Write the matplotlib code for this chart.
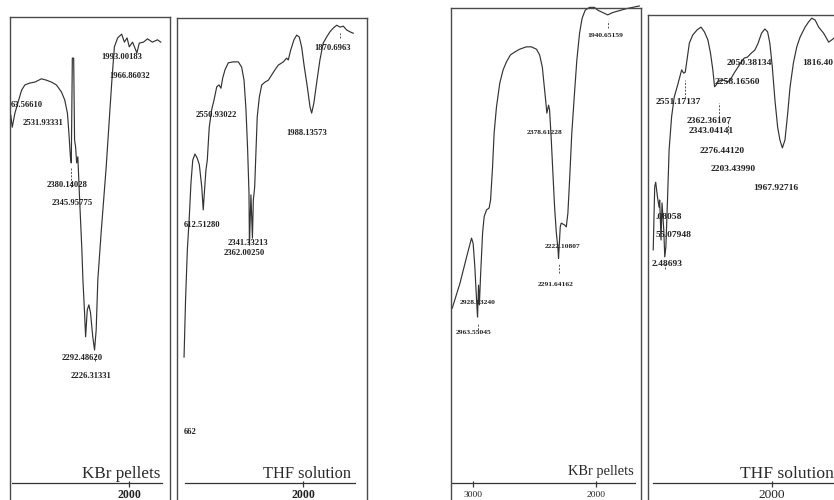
import matplotlib.pyplot as plt

W, H = 834, 500

# ---- spectra: wavenumber (cm-1) and transmittance (%) ----
kbr1_wn = [2795, 2785, 2767, 2747, 2722, 2700, 2667, 2633, 2589, 2555, 2522, 2489,
           2455, 2433, 2415, 2405, 2395, 2389, 2382, 2373, 2367, 2360, 2353, 2345,
           2333, 2318, 2311, 2300, 2293, 2282, 2271, 2260, 2245, 2233, 2222, 2211,
           2189, 2155, 2133, 2118, 2100, 2078, 2051, 2033, 2015, 2000, 1978, 1949,
           1933, 1905, 1878, 1845, 1811, 1789]
kbr1_t = [78.3, 75.7, 78.7, 80.9, 83.6, 84.7, 85.1, 85.3, 86.0, 85.7, 85.3, 84.7,
          83.2, 81.5, 78.7, 74.5, 69.4, 68.1, 90.4, 90.4, 73.0, 71.5, 68.1, 69.4,
          60.2, 49.6, 43.2, 36.2, 31.1, 36.8, 37.9, 36.2, 31.1, 28.3, 32.6, 43.2,
          53.2, 67.2, 77.9, 85.1, 92.8, 94.7, 95.5, 93.8, 94.7, 92.8, 93.8, 91.5,
          93.6, 93.8, 94.5, 93.8, 94.3, 93.8]

thf1_wn = [2793, 2783, 2771, 2758, 2747, 2735, 2720, 2705, 2691, 2675, 2665, 2655,
           2647, 2638, 2625, 2609, 2593, 2575, 2560, 2547, 2535, 2520, 2498, 2465,
           2431, 2409, 2393, 2380, 2369, 2360, 2357, 2347, 2337, 2331, 2322, 2313,
           2305, 2291, 2275, 2253, 2231, 2209, 2187, 2165, 2131, 2109, 2098, 2082,
           2060, 2042, 2025, 2009, 1991, 1971, 1953, 1942, 1927, 1909, 1887, 1865,
           1842, 1820, 1798, 1775, 1753, 1731, 1709, 1687, 1665]
thf1_t = [26.8, 38.9, 49.6, 56.6, 63.8, 68.7, 70.0, 69.1, 67.7, 63.0, 58.1, 63.0,
          66.6, 68.7, 75.7, 79.4, 81.5, 84.3, 84.7, 84.0, 86.2, 87.9, 89.4, 89.6,
          89.6, 88.5, 85.7, 79.4, 70.9, 61.7, 50.6, 61.3, 52.1, 60.2, 63.0, 70.9,
          77.9, 82.1, 84.7, 85.3, 85.7, 86.8, 87.9, 88.9, 89.6, 90.4, 90.0, 92.1,
          94.3, 95.3, 94.9, 92.8, 88.5, 84.3, 80.0, 78.7, 80.9, 85.1, 90.0, 93.6,
          94.9, 96.0, 96.8, 97.4, 97.0, 97.2, 96.4, 96.0, 95.7]

kbr2_wn = [3171, 3108, 3054, 3014, 3001, 2987, 2973, 2965, 2957, 2950, 2941, 2924,
           2911, 2892, 2871, 2859, 2843, 2830, 2811, 2784, 2757, 2730, 2697, 2662,
           2622, 2568, 2527, 2486, 2460, 2438, 2425, 2411, 2401, 2387, 2379, 2365,
           2352, 2338, 2324, 2311, 2306, 2292, 2284, 2257, 2243, 2230, 2216, 2198,
           2176, 2157, 2135, 2114, 2089, 2054, 2014, 1987, 1946, 1906, 1865, 1811,
           1757, 1703, 1649]
kbr2_t = [37.2, 42.5, 48.1, 52.1, 51.0, 46.0, 38.9, 35.3, 42.1, 37.9, 43.8, 53.2,
          56.7, 58.1, 58.5, 60.2, 67.2, 74.5, 80.0, 85.1, 87.9, 89.6, 91.1, 91.7,
          92.3, 92.8, 92.8, 92.3, 91.1, 88.5, 85.1, 81.5, 78.7, 80.4, 79.4, 73.0,
          66.0, 58.7, 53.2, 50.0, 47.8, 54.5, 55.3, 54.9, 54.5, 57.4, 64.5, 74.5,
          83.0, 90.0, 95.7, 98.9, 100.6, 101.2, 101.2, 100.6, 100.1, 99.6, 100.1, 100.5,
          100.9, 101.2, 101.5]

thf2_wn = [2953, 2941, 2933, 2919, 2906, 2901, 2890, 2882, 2868, 2860, 2851, 2838,
           2825, 2805, 2784, 2756, 2735, 2724, 2708, 2695, 2681, 2662, 2635, 2600,
           2568, 2541, 2513, 2492, 2473, 2459, 2446, 2432, 2411, 2384, 2357, 2338,
           2319, 2297, 2270, 2243, 2221, 2195, 2162, 2135, 2108, 2081, 2054, 2032,
           2014, 1994, 1973, 1951, 1933, 1913, 1892, 1870, 1851, 1824, 1797, 1770,
           1730, 1702, 1676, 1649, 1621, 1581, 1540, 1514, 1486]
thf2_t = [49.6, 63.0, 64.0, 60.9, 58.7, 60.2, 51.7, 59.6, 53.8, 48.1, 50.2, 60.2,
          70.9, 77.9, 82.1, 84.7, 86.8, 87.9, 87.2, 87.4, 90.0, 93.6, 95.3, 96.4,
          97.0, 96.0, 94.3, 91.5, 87.9, 84.3, 84.7, 85.3, 85.7, 85.7, 85.3, 85.7,
          86.4, 87.4, 88.5, 89.6, 90.4, 90.6, 91.5, 92.1, 93.6, 95.7, 96.6, 96.0,
          93.6, 88.5, 81.5, 75.7, 73.0, 71.3, 73.0, 78.7, 84.3, 89.4, 92.8, 94.9,
          97.0, 98.1, 98.9, 98.5, 97.0, 95.7, 93.8, 94.3, 94.9]

# peak-pick marks printed under the picked bands (wavenumber, upper and lower %T)
kbr1_marks = [(2389, 67.0, 63.0), (2233, 27.5, 26.0)]
thf1_marks = [(1753, 95.8, 94.6)]
kbr2_marks = [(1906, 98.4, 96.8), (2965, 34.0, 32.0), (2306, 46.5, 44.6)]
thf2_marks = [(2695, 85.8, 82.0), (2427, 80.8, 77.8), (2348, 76.8, 74.2),
              (2860, 47.0, 45.5)]

kbr1_peaks = ["63.56610", "2531.93331", "1993.00183", "1966.86032", "2380.14028",
              "2345.95775", "2292.48620", "2226.31331"]
thf1_peaks = ["2550.93022", "1988.13573", "1870.6963", "612.51280", "2341.33213",
              "2362.00250", "662"]
kbr2_peaks = ["1940.65159", "2378.61228", "2222.10807", "2291.64162", "2928.13240",
              "2963.55045"]
thf2_peaks = ["2050.38134", "1816.40", "2258.16560", "2551.17137", "2362.36107",
              "2343.04141", "2276.44120", "2203.43990", "1967.92716", ".08058",
              "55.07948", "2.48693"]

# ---- layout, in pixels of the scan ----
panels = [
    dict(box=(10, 170, 17), xlim=(2800, 1727), axis=(2787, 1780), ticks=[2000],
         wn=kbr1_wn, t=kbr1_t, marks=kbr1_marks, peaks=kbr1_peaks, name="KBr pellets",
         lab_xy=[(11, 105), (23, 123), (101, 57), (109, 76), (47, 185), (52, 203),
                 (62, 358), (71, 376)],
         pk_size=6.2, pk_weight="bold", name_xy=(160, 474), name_size=12.3,
         tick_size=8.6, tick_weight="bold"),
    dict(box=(177, 367, 18), xlim=(2840, 1573), axis=(2787, 1653), ticks=[2000],
         wn=thf1_wn, t=thf1_t, marks=thf1_marks, peaks=thf1_peaks, name="THF solution",
         lab_xy=[(196, 115), (286, 133), (314, 48), (184, 225), (228, 243),
                 (224, 253), (184, 432)],
         pk_size=6.2, pk_weight="bold", name_xy=(351, 474), name_size=11.8,
         tick_size=8.6, tick_weight="bold"),
    dict(box=(451, 641, 8), xlim=(3181, 1635), axis=(3173, 1681), ticks=[3000, 2000],
         wn=kbr2_wn, t=kbr2_t, marks=kbr2_marks, peaks=kbr2_peaks, name="KBr pellets",
         lab_xy=[(587, 35), (527, 132), (545, 246), (538, 284), (460, 303),
                 (456, 333)],
         pk_size=5.4, pk_weight="semibold", name_xy=(634, 472), name_size=10.4,
         tick_size=6.8, tick_weight="normal"),
    dict(box=(648, 840, 15), xlim=(2995, 1449), axis=(2957, 1481), ticks=[2000],
         wn=thf2_wn, t=thf2_t, marks=thf2_marks, peaks=thf2_peaks, name="THF solution",
         lab_xy=[(727, 63), (802, 63), (715, 82), (656, 102), (687, 121),
                 (689, 131), (700, 151), (711, 169), (753, 188), (656, 217),
                 (656, 235), (652, 264)],
         pk_size=6.8, pk_weight="semibold", name_xy=(834, 474), name_size=12.6,
         tick_size=9.6, tick_weight="normal"),
]

ink = "#333333"
serif = ["Liberation Serif", "DejaVu Serif"]


def to_t(ypix):
    # vertical pixel of the scan -> transmittance scale used above
    return (483 - ypix) / 4.7


fig = plt.figure(figsize=(W / 100, H / 100), dpi=100)
fig.patch.set_facecolor("white")

for p in panels:
    left, right, top = p["box"]
    bottom = 503
    ax = fig.add_axes([left / W, 1 - bottom / H, (right - left) / W, (bottom - top) / H])
    ax.set_xlim(*p["xlim"])
    ax.set_ylim(to_t(bottom), to_t(top))
    ax.set_xticks([])
    ax.set_yticks([])
    for s in ax.spines.values():
        s.set_color("#4a4a4a")
        s.set_linewidth(1.0)

    ax.plot(p["wn"], p["t"], color=ink, lw=0.85, clip_on=False, solid_joinstyle="round")
    for w, hi, lo in p["marks"]:
        ax.vlines(w, lo, hi, color="#555555", lw=0.7, linestyles=(0, (2, 1.5)))

    # inner wavenumber axis
    ax.plot(p["axis"], [0, 0], color=ink, lw=0.9)
    for tk in p["ticks"]:
        ax.vlines(tk, -0.8, 0.4, color=ink, lw=0.9)
        ax.text(tk, to_t(495), str(tk), ha="center", va="center", family=serif,
                fontsize=p["tick_size"], fontweight=p["tick_weight"], color="#222222")

    for txt, (x, y) in zip(p["peaks"], p["lab_xy"]):
        ax.text(x / W, 1 - y / H, txt, transform=fig.transFigure, ha="left",
                va="center", family=serif, fontsize=p["pk_size"],
                fontweight=p["pk_weight"], color="#222222", clip_on=True)

    nx, ny = p["name_xy"]
    ax.text(nx / W, 1 - ny / H, p["name"], transform=fig.transFigure, ha="right",
            va="center", family=serif, fontsize=p["name_size"], color="#2a2a2a",
            clip_on=True)

fig.savefig("out.png", dpi=100, facecolor="white")
